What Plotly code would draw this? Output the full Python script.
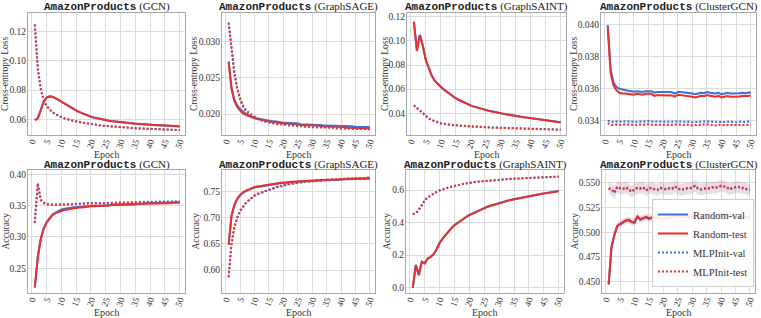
import plotly.graph_objects as go

epochs = list(range(1, 51))
x_ticks = [0, 5, 10, 15, 20, 25, 30, 35, 40, 45, 50]
models = ["GCN", "GraphSAGE", "GraphSAINT", "ClusterGCN"]
series_names = ["Random-val", "Random-test", "MLPInit-val", "MLPInit-test"]

# ---------------- Loss (top row) ----------------
gcn_loss_rand_val = [0.0595,0.0606,0.0662,0.0721,0.0749,0.0757,0.0755,0.0746,0.0734,0.0721,
    0.0708,0.0695,0.0683,0.0671,0.0660,0.0650,0.0641,0.0633,0.0625,0.0618,
    0.0612,0.0607,0.0602,0.0598,0.0594,0.0591,0.0588,0.0585,0.0582,0.0580,
    0.0578,0.0576,0.0574,0.0572,0.0570,0.0568,0.0567,0.0565,0.0564,0.0562,
    0.0561,0.0560,0.0559,0.0558,0.0557,0.0556,0.0555,0.0554,0.0553,0.0552]
gcn_loss_rand_test = [0.0594,0.0605,0.0660,0.0719,0.0748,0.0756,0.0754,0.0745,0.0733,0.0720,
    0.0707,0.0694,0.0682,0.0670,0.0659,0.0649,0.0640,0.0632,0.0624,0.0617,
    0.0611,0.0606,0.0601,0.0597,0.0593,0.0590,0.0587,0.0584,0.0581,0.0579,
    0.0577,0.0575,0.0573,0.0571,0.0569,0.0567,0.0566,0.0564,0.0563,0.0561,
    0.0560,0.0559,0.0558,0.0557,0.0556,0.0555,0.0554,0.0553,0.0552,0.0551]
gcn_loss_mlp_val = [0.1250,0.0950,0.0810,0.0730,0.0690,0.0665,0.0647,0.0633,0.0622,0.0614,
    0.0606,0.0599,0.0593,0.0589,0.0585,0.0581,0.0577,0.0573,0.0569,0.0565,
    0.0563,0.0560,0.0558,0.0555,0.0553,0.0551,0.0549,0.0548,0.0546,0.0545,
    0.0543,0.0542,0.0541,0.0540,0.0538,0.0537,0.0536,0.0535,0.0534,0.0533,
    0.0532,0.0531,0.0531,0.0530,0.0529,0.0528,0.0527,0.0527,0.0526,0.0525]
gcn_loss_mlp_test = [0.1248,0.0952,0.0811,0.0731,0.0690,0.0665,0.0647,0.0634,0.0623,0.0614,
    0.0606,0.0600,0.0594,0.0589,0.0585,0.0581,0.0577,0.0573,0.0569,0.0566,
    0.0563,0.0560,0.0558,0.0556,0.0554,0.0552,0.0550,0.0548,0.0547,0.0545,
    0.0544,0.0542,0.0541,0.0540,0.0539,0.0538,0.0537,0.0536,0.0535,0.0534,
    0.0533,0.0532,0.0531,0.0530,0.0529,0.0529,0.0528,0.0527,0.0526,0.0526]

sage_loss_rand_val = [0.0273,0.0237,0.0220,0.0212,0.0207,0.0203,0.0200,0.0198,0.0196,0.0195,
    0.0194,0.0193,0.0192,0.0191,0.0191,0.0190,0.0190,0.0189,0.0189,0.0188,
    0.0188,0.0188,0.0187,0.0187,0.0187,0.0186,0.0186,0.0186,0.0186,0.0185,
    0.0185,0.0185,0.0185,0.0184,0.0184,0.0184,0.0184,0.0184,0.0183,0.0183,
    0.0183,0.0183,0.0183,0.0183,0.0182,0.0182,0.0182,0.0182,0.0182,0.0182]
sage_loss_rand_test = [0.0272,0.0235,0.0218,0.0210,0.0205,0.0201,0.0199,0.0197,0.0195,0.0194,
    0.0193,0.0192,0.0191,0.0190,0.0190,0.0189,0.0189,0.0188,0.0188,0.0187,
    0.0187,0.0187,0.0186,0.0186,0.0186,0.0185,0.0185,0.0185,0.0184,0.0184,
    0.0184,0.0184,0.0183,0.0183,0.0183,0.0183,0.0182,0.0182,0.0182,0.0182,
    0.0182,0.0181,0.0181,0.0181,0.0181,0.0181,0.0180,0.0180,0.0180,0.0180]
sage_loss_mlp_val = [0.0327,0.0290,0.0258,0.0236,0.0222,0.0212,0.0206,0.0202,0.0199,0.0196,
    0.0194,0.0193,0.0191,0.0190,0.0189,0.0189,0.0188,0.0187,0.0187,0.0186,
    0.0186,0.0186,0.0185,0.0185,0.0185,0.0184,0.0184,0.0184,0.0184,0.0183,
    0.0183,0.0183,0.0183,0.0183,0.0182,0.0182,0.0182,0.0182,0.0182,0.0182,
    0.0181,0.0181,0.0181,0.0181,0.0181,0.0181,0.0181,0.0180,0.0180,0.0180]
sage_loss_mlp_test = [0.0326,0.0288,0.0256,0.0234,0.0220,0.0210,0.0204,0.0200,0.0197,0.0195,
    0.0193,0.0191,0.0190,0.0189,0.0188,0.0187,0.0187,0.0186,0.0186,0.0185,
    0.0185,0.0184,0.0184,0.0184,0.0183,0.0183,0.0183,0.0182,0.0182,0.0182,
    0.0182,0.0182,0.0181,0.0181,0.0181,0.0181,0.0181,0.0180,0.0180,0.0180,
    0.0180,0.0180,0.0180,0.0179,0.0179,0.0179,0.0179,0.0179,0.0179,0.0179]

saint_loss_rand_val = [0.1160,0.0920,0.1050,0.0960,0.0840,0.0765,0.0710,0.0670,0.0642,0.0620,
    0.0598,0.0578,0.0560,0.0542,0.0525,0.0512,0.0499,0.0487,0.0476,0.0465,
    0.0457,0.0449,0.0442,0.0435,0.0428,0.0422,0.0416,0.0410,0.0405,0.0400,
    0.0396,0.0391,0.0387,0.0382,0.0378,0.0374,0.0371,0.0367,0.0364,0.0360,
    0.0356,0.0353,0.0349,0.0346,0.0342,0.0339,0.0335,0.0332,0.0329,0.0327]
saint_loss_rand_test = [0.1158,0.0918,0.1048,0.0958,0.0838,0.0763,0.0708,0.0668,0.0640,0.0618,
    0.0596,0.0576,0.0558,0.0540,0.0523,0.0510,0.0497,0.0485,0.0474,0.0463,
    0.0455,0.0447,0.0440,0.0433,0.0426,0.0420,0.0414,0.0408,0.0403,0.0398,
    0.0394,0.0389,0.0385,0.0380,0.0376,0.0372,0.0369,0.0365,0.0362,0.0358,
    0.0354,0.0350,0.0346,0.0343,0.0339,0.0336,0.0332,0.0329,0.0326,0.0323]
saint_loss_mlp_val = [0.0467,0.0445,0.0420,0.0396,0.0375,0.0358,0.0345,0.0334,0.0325,0.0318,
    0.0313,0.0309,0.0306,0.0303,0.0301,0.0299,0.0297,0.0295,0.0293,0.0291,
    0.0290,0.0288,0.0287,0.0286,0.0285,0.0284,0.0283,0.0282,0.0281,0.0280,
    0.0279,0.0278,0.0277,0.0276,0.0275,0.0274,0.0274,0.0273,0.0272,0.0271,
    0.0271,0.0270,0.0269,0.0268,0.0268,0.0267,0.0266,0.0266,0.0265,0.0265]
saint_loss_mlp_test = [0.0465,0.0443,0.0418,0.0394,0.0373,0.0356,0.0343,0.0332,0.0323,0.0316,
    0.0311,0.0307,0.0304,0.0301,0.0299,0.0297,0.0295,0.0293,0.0291,0.0289,
    0.0288,0.0286,0.0285,0.0284,0.0283,0.0282,0.0281,0.0280,0.0279,0.0278,
    0.0277,0.0276,0.0275,0.0274,0.0273,0.0272,0.0272,0.0271,0.0270,0.0269,
    0.0269,0.0268,0.0267,0.0266,0.0266,0.0265,0.0264,0.0264,0.0263,0.0263]

cluster_loss_rand_val = [0.0400,0.0372,0.0364,0.0361,0.0360,0.03595,0.0359,0.03588,0.03585,0.03582,
    0.03585,0.03582,0.0358,0.03585,0.03587,0.03585,0.03575,0.0358,0.0358,0.03578,
    0.0358,0.0358,0.03578,0.0357,0.0358,0.0358,0.03578,0.03575,0.03575,0.0357,
    0.03565,0.0357,0.03575,0.03572,0.0358,0.03575,0.03572,0.0357,0.03575,0.03565,
    0.0357,0.03575,0.0357,0.0357,0.0357,0.03572,0.03575,0.03572,0.03575,0.03578]
cluster_loss_rand_test = [0.0399,0.0370,0.0362,0.0359,0.03575,0.0357,0.0357,0.03568,0.03565,0.03562,
    0.03568,0.03565,0.03562,0.03568,0.0357,0.03567,0.03555,0.0356,0.0356,0.03558,
    0.0356,0.0356,0.03558,0.0355,0.03562,0.0356,0.03558,0.03555,0.03555,0.0355,
    0.03545,0.0355,0.03556,0.03553,0.0356,0.03556,0.03553,0.0355,0.03555,0.03545,
    0.0355,0.03555,0.0355,0.0355,0.0355,0.03552,0.03555,0.03553,0.03555,0.03558]
cluster_loss_mlp_val = [0.03400,0.03395,0.03392,0.03395,0.03393,0.03392,0.03396,0.03394,0.03392,0.03393,
    0.03392,0.03394,0.03393,0.03395,0.03397,0.03394,0.03392,0.03394,0.03393,0.03396,
    0.03394,0.03392,0.03393,0.03395,0.03396,0.03394,0.03393,0.03395,0.03393,0.03390,
    0.03392,0.03393,0.03395,0.03394,0.03396,0.03393,0.03392,0.03390,0.03393,0.03392,
    0.03391,0.03393,0.03394,0.03392,0.03390,0.03392,0.03393,0.03391,0.03394,0.03396]
cluster_loss_mlp_test = [0.03385,0.03375,0.03372,0.03376,0.03374,0.03373,0.03377,0.03375,0.03372,0.03374,
    0.03373,0.03376,0.03374,0.03377,0.03378,0.03375,0.03372,0.03375,0.03374,0.03377,
    0.03375,0.03372,0.03374,0.03376,0.03377,0.03375,0.03373,0.03376,0.03374,0.03370,
    0.03372,0.03374,0.03376,0.03375,0.03377,0.03374,0.03372,0.03370,0.03374,0.03372,
    0.03371,0.03373,0.03375,0.03372,0.03370,0.03372,0.03373,0.03371,0.03374,0.03376]

# ---------------- Accuracy (bottom row) ----------------
gcn_acc_rand_val = [0.220,0.268,0.297,0.314,0.324,0.331,0.336,0.339,0.342,0.344,
    0.345,0.346,0.347,0.347,0.348,0.348,0.349,0.349,0.349,0.350,
    0.350,0.350,0.350,0.351,0.351,0.351,0.351,0.352,0.352,0.352,
    0.352,0.352,0.353,0.353,0.353,0.353,0.353,0.353,0.354,0.354,
    0.354,0.354,0.354,0.354,0.354,0.355,0.355,0.355,0.355,0.355]
gcn_acc_rand_test = [0.219,0.267,0.296,0.313,0.323,0.330,0.335,0.338,0.340,0.342,
    0.343,0.344,0.345,0.346,0.346,0.347,0.347,0.348,0.348,0.349,
    0.349,0.349,0.350,0.350,0.350,0.350,0.351,0.351,0.351,0.351,
    0.352,0.352,0.352,0.352,0.352,0.353,0.353,0.353,0.353,0.353,
    0.353,0.354,0.354,0.354,0.354,0.354,0.354,0.355,0.355,0.355]
gcn_acc_mlp_val = [0.323,0.386,0.360,0.355,0.353,0.352,0.352,0.352,0.352,0.352,
    0.353,0.353,0.353,0.353,0.353,0.353,0.353,0.354,0.354,0.354,
    0.354,0.354,0.354,0.354,0.355,0.355,0.355,0.355,0.355,0.355,
    0.355,0.355,0.355,0.355,0.355,0.356,0.356,0.356,0.356,0.356,
    0.356,0.356,0.356,0.356,0.356,0.356,0.356,0.357,0.357,0.357]
gcn_acc_mlp_test = [0.322,0.385,0.359,0.354,0.352,0.351,0.351,0.351,0.351,0.352,
    0.352,0.352,0.352,0.352,0.353,0.353,0.353,0.353,0.353,0.353,
    0.354,0.354,0.354,0.354,0.354,0.354,0.354,0.354,0.355,0.355,
    0.355,0.355,0.355,0.355,0.355,0.355,0.355,0.355,0.356,0.356,
    0.356,0.356,0.356,0.356,0.356,0.356,0.356,0.356,0.356,0.356]

sage_acc_rand_val = [0.648,0.703,0.724,0.736,0.743,0.748,0.751,0.754,0.756,0.758,
    0.759,0.760,0.761,0.762,0.763,0.764,0.765,0.765,0.766,0.767,
    0.767,0.768,0.768,0.769,0.769,0.770,0.770,0.770,0.771,0.771,
    0.771,0.772,0.772,0.772,0.772,0.773,0.773,0.773,0.773,0.774,
    0.774,0.774,0.774,0.774,0.775,0.775,0.775,0.775,0.775,0.775]
sage_acc_rand_test = [0.649,0.704,0.725,0.737,0.744,0.749,0.752,0.755,0.757,0.759,
    0.760,0.761,0.762,0.763,0.764,0.765,0.765,0.766,0.767,0.767,
    0.768,0.768,0.769,0.769,0.770,0.770,0.770,0.771,0.771,0.771,
    0.772,0.772,0.772,0.773,0.773,0.773,0.773,0.774,0.774,0.774,
    0.774,0.775,0.775,0.775,0.775,0.775,0.776,0.776,0.776,0.776]
sage_acc_mlp_val = [0.587,0.650,0.682,0.700,0.713,0.721,0.728,0.733,0.738,0.742,
    0.745,0.747,0.750,0.752,0.754,0.756,0.758,0.759,0.760,0.762,
    0.763,0.764,0.765,0.766,0.767,0.767,0.768,0.769,0.769,0.770,
    0.770,0.771,0.771,0.772,0.772,0.772,0.773,0.773,0.773,0.774,
    0.774,0.774,0.774,0.775,0.775,0.775,0.775,0.775,0.776,0.776]
sage_acc_mlp_test = [0.586,0.651,0.683,0.701,0.714,0.722,0.729,0.734,0.739,0.743,
    0.746,0.748,0.751,0.753,0.755,0.757,0.759,0.760,0.761,0.763,
    0.764,0.765,0.766,0.767,0.768,0.768,0.769,0.770,0.770,0.771,
    0.771,0.772,0.772,0.773,0.773,0.773,0.774,0.774,0.774,0.775,
    0.775,0.775,0.775,0.776,0.776,0.776,0.776,0.776,0.777,0.777]

saint_acc_rand_val = [0.000,0.140,0.078,0.160,0.150,0.180,0.190,0.207,0.237,0.276,
    0.302,0.326,0.347,0.367,0.385,0.399,0.412,0.424,0.436,0.447,
    0.456,0.465,0.474,0.482,0.490,0.497,0.503,0.509,0.515,0.521,
    0.526,0.531,0.536,0.540,0.544,0.548,0.552,0.556,0.560,0.563,
    0.567,0.570,0.573,0.576,0.579,0.582,0.585,0.588,0.591,0.594]
saint_acc_rand_test = [0.001,0.139,0.077,0.159,0.149,0.179,0.189,0.206,0.236,0.275,
    0.301,0.325,0.346,0.366,0.384,0.398,0.411,0.423,0.435,0.446,
    0.455,0.464,0.473,0.481,0.489,0.496,0.502,0.508,0.514,0.520,
    0.525,0.530,0.535,0.539,0.543,0.547,0.551,0.555,0.559,0.562,
    0.566,0.569,0.572,0.575,0.578,0.581,0.584,0.587,0.590,0.593]
saint_acc_mlp_val = [0.450,0.457,0.477,0.510,0.537,0.554,0.567,0.578,0.588,0.597,
    0.604,0.610,0.615,0.620,0.625,0.629,0.633,0.637,0.640,0.644,
    0.647,0.649,0.651,0.653,0.655,0.657,0.659,0.661,0.662,0.664,
    0.665,0.666,0.667,0.668,0.669,0.670,0.671,0.672,0.673,0.674,
    0.675,0.676,0.677,0.677,0.678,0.679,0.680,0.680,0.681,0.682]
saint_acc_mlp_test = [0.451,0.458,0.478,0.511,0.538,0.555,0.568,0.579,0.589,0.598,
    0.605,0.611,0.616,0.621,0.626,0.630,0.634,0.638,0.641,0.645,
    0.648,0.650,0.652,0.654,0.656,0.658,0.660,0.662,0.663,0.665,
    0.666,0.667,0.668,0.669,0.670,0.671,0.672,0.673,0.674,0.675,
    0.676,0.677,0.678,0.678,0.679,0.680,0.681,0.681,0.682,0.683]

cluster_acc_rand_val = [0.447,0.485,0.497,0.506,0.508,0.510,0.5115,0.512,0.510,0.5095,
    0.5155,0.5125,0.514,0.515,0.5135,0.5145,0.5155,0.514,0.5135,0.513,
    0.514,0.5145,0.515,0.5165,0.5155,0.516,0.5155,0.5165,0.515,0.516,
    0.5155,0.5165,0.516,0.5165,0.5165,0.517,0.516,0.5165,0.517,0.5175,
    0.517,0.516,0.5155,0.5175,0.5145,0.516,0.5155,0.515,0.515,0.5145]
cluster_acc_rand_test = [0.4475,0.4855,0.4975,0.5065,0.5085,0.5105,0.512,0.5125,0.5105,0.510,
    0.516,0.513,0.5145,0.5155,0.514,0.515,0.516,0.5145,0.514,0.5135,
    0.5145,0.515,0.5155,0.517,0.516,0.5165,0.516,0.517,0.5155,0.5165,
    0.516,0.517,0.5165,0.517,0.517,0.5175,0.5165,0.517,0.5175,0.518,
    0.5175,0.5165,0.516,0.518,0.515,0.5165,0.516,0.5155,0.5155,0.515]
cluster_acc_mlp_val = [0.5440,0.5430,0.5395,0.5455,0.5440,0.5435,0.5450,0.5430,0.5405,0.5430,
    0.5445,0.5440,0.5450,0.5420,0.5440,0.5445,0.5430,0.5425,0.5445,0.5435,
    0.5430,0.5440,0.5435,0.5460,0.5440,0.5425,0.5430,0.5440,0.5435,0.5450,
    0.5465,0.5440,0.5430,0.5435,0.5445,0.5440,0.5450,0.5445,0.5455,0.5465,
    0.5460,0.5450,0.5430,0.5445,0.5450,0.5455,0.5440,0.5445,0.5430,0.5425]
cluster_acc_mlp_test = [0.5445,0.5435,0.5400,0.5460,0.5445,0.5440,0.5455,0.5435,0.5410,0.5435,
    0.5450,0.5445,0.5455,0.5425,0.5445,0.5450,0.5435,0.5430,0.5450,0.5440,
    0.5435,0.5445,0.5440,0.5465,0.5445,0.5430,0.5435,0.5445,0.5440,0.5455,
    0.5470,0.5445,0.5435,0.5440,0.5450,0.5445,0.5455,0.5450,0.5460,0.5470,
    0.5465,0.5455,0.5435,0.5450,0.5455,0.5460,0.5445,0.5450,0.5435,0.5430]

# spread (std) of runs, shown as shaded bands for ClusterGCN
cluster_loss_rand_std = 0.00009
cluster_loss_mlp_std = 0.00007
cluster_acc_rand_std = 0.0035
cluster_acc_mlp_std = 0.006

BLUE = "#3f73d6"
RED = "#e8312c"
SERIF = "Liberation Serif"
MONO = "Liberation Mono"

panels = [
    ("GCN", "Cross-entropy Loss", [gcn_loss_rand_val, gcn_loss_rand_test, gcn_loss_mlp_val, gcn_loss_mlp_test],
     [0.0492, 0.1328], [0.06, 0.08, 0.10, 0.12], ".2f", None),
    ("GraphSAGE", "Cross-entropy Loss", [sage_loss_rand_val, sage_loss_rand_test, sage_loss_mlp_val, sage_loss_mlp_test],
     [0.0171, 0.0340], [0.020, 0.025, 0.030], ".3f", None),
    ("GraphSAINT", "Cross-entropy Loss", [saint_loss_rand_val, saint_loss_rand_test, saint_loss_mlp_val, saint_loss_mlp_test],
     [0.0220, 0.1231], [0.04, 0.06, 0.08, 0.10, 0.12], ".2f", None),
    ("ClusterGCN", "Cross-entropy Loss", [cluster_loss_rand_val, cluster_loss_rand_test, cluster_loss_mlp_val, cluster_loss_mlp_test],
     [0.0331, 0.04075], [0.034, 0.036, 0.038, 0.040], ".3f", (cluster_loss_rand_std, cluster_loss_mlp_std)),
    ("GCN", "Accuracy", [gcn_acc_rand_val, gcn_acc_rand_test, gcn_acc_mlp_val, gcn_acc_mlp_test],
     [0.2106, 0.4069], [0.25, 0.30, 0.35, 0.40], ".2f", None),
    ("GraphSAGE", "Accuracy", [sage_acc_rand_val, sage_acc_rand_test, sage_acc_mlp_val, sage_acc_mlp_test],
     [0.556, 0.7916], [0.60, 0.65, 0.70, 0.75], ".2f", None),
    ("GraphSAINT", "Accuracy", [saint_acc_rand_val, saint_acc_rand_test, saint_acc_mlp_val, saint_acc_mlp_test],
     [-0.0326, 0.723], [0.0, 0.2, 0.4, 0.6], ".1f", None),
    ("ClusterGCN", "Accuracy", [cluster_acc_rand_val, cluster_acc_rand_test, cluster_acc_mlp_val, cluster_acc_mlp_test],
     [0.4386, 0.5628], [0.450, 0.475, 0.500, 0.525, 0.550], ".3f", (cluster_acc_rand_std, cluster_acc_mlp_std)),
]

W, H = 761, 318
boxes = [(28, 185, 13, 135), (222, 375, 13, 135), (407, 566, 13, 135), (601, 756, 13, 135),
         (28, 185, 170, 293), (222, 375, 170, 293), (406, 564, 170, 293), (602, 755, 170, 293)]
ylabel_x = [5, 194, 385, 574, 5, 195, 386, 574]

styles = [(BLUE, "solid"), (RED, "solid"), (BLUE, "2px,2px"), (RED, "2px,2px")]
band_fill = ["rgba(63,115,214,0.10)", "rgba(232,49,44,0.10)", "rgba(63,115,214,0.10)", "rgba(232,49,44,0.10)"]

fig = go.Figure()
annotations = []
layout = {}
for i, (model, ylabel, data, yr, ytv, tf, band) in enumerate(panels):
    k = "" if i == 0 else str(i + 1)
    xa, ya = "x" + k, "y" + k
    l, r, t, b = boxes[i]
    if band is not None:
        for j, ser in enumerate(data):
            s = band[0] if j < 2 else band[1]
            up = [v + s for v in ser]
            lo = [v - s for v in ser]
            fig.add_trace(go.Scatter(x=epochs + epochs[::-1], y=up + lo[::-1], fill="toself",
                                     fillcolor=band_fill[j], line=dict(width=0), mode="lines",
                                     hoverinfo="skip", showlegend=False, xaxis=xa, yaxis=ya))
    for j, ser in enumerate(data):
        c, d = styles[j]
        fig.add_trace(go.Scatter(x=epochs, y=ser, mode="lines", name=series_names[j],
                                 line=dict(color=c, width=2, dash=d),
                                 showlegend=(i == 7), xaxis=xa, yaxis=ya))
    axis_common = dict(showgrid=True, gridcolor="#dcdcdc", gridwidth=1,
                       showline=True, mirror=True, linecolor="#a8a8a8", linewidth=1,
                       zeroline=False, ticks="", automargin=False)
    layout["xaxis" + k] = dict(domain=[l / W, r / W], anchor=ya, range=[-1.3, 51.8],
                               tickvals=x_ticks, tickangle=-70, ticklabelstandoff=-3,
                               tickfont=dict(family=SERIF, size=9, color="#333"), **axis_common)
    layout["yaxis" + k] = dict(domain=[1 - b / H, 1 - t / H], anchor=xa, range=yr,
                               tickvals=ytv, tickformat=tf, ticklabelstandoff=-1,
                               tickfont=dict(family=SERIF, size=9.5, color="#333"), **axis_common)
    cx = (l + r) / 2 / W
    annotations.append(dict(xref="paper", yref="paper", x=cx, y=1 - (t - 6) / H, yanchor="middle",
                            xanchor="center", showarrow=False,
                            text="<span style=\"font-family:'%s'\"><b>AmazonProducts</b></span> (%s)" % (MONO, model),
                            font=dict(family=SERIF, size=11, color="#222")))
    annotations.append(dict(xref="paper", yref="paper", x=cx, y=1 - (b + 19.5) / H, yanchor="middle",
                            xanchor="center", showarrow=False, text="Epoch",
                            font=dict(family=SERIF, size=10, color="#333")))
    annotations.append(dict(xref="paper", yref="paper", x=ylabel_x[i] / W, y=1 - (t + b) / 2 / H,
                            xanchor="center", yanchor="middle", showarrow=False, text=ylabel,
                            textangle=-90, font=dict(family=SERIF, size=9.5, color="#333")))

fig.update_layout(
    template="none",
    width=W, height=H, autosize=False, margin=dict(l=0, r=0, t=0, b=0, pad=0),
    plot_bgcolor="white", paper_bgcolor="white",
    annotations=annotations,
    legend=dict(x=754 / W, y=1 - 287 / H, xanchor="right", yanchor="bottom",
                bgcolor="rgba(255,255,255,0.9)", bordercolor="#cccccc", borderwidth=1,
                font=dict(family=SERIF, size=10.5, color="#333"), tracegroupgap=0,
                itemwidth=30),
    **layout,
)
fig.write_html("out.html", config={"responsive": False, "displayModeBar": False},
               post_script="document.body.style.margin='0px';document.body.style.padding='0px';")
